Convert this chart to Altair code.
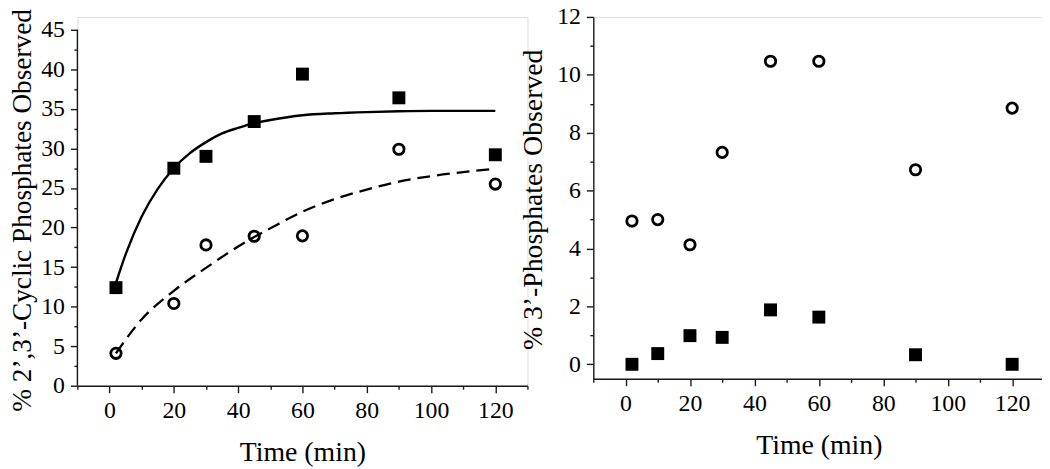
import altair as alt
import pandas as pd

# ---------------- data ----------------
# Left panel: % 2',3'-cyclic phosphates
cyc_time = [2, 20, 30, 45, 60, 90, 120]
cyc_filled = [12.4, 27.5, 29.0, 33.4, 39.4, 36.4, 29.2]
cyc_open = [4.1, 10.4, 17.8, 18.9, 18.95, 29.9, 25.5]

# fitted curves
fit_solid_time = [2, 5, 10, 15, 20, 25, 30, 35, 40, 45, 50, 60, 70, 80, 90, 100, 110, 120]
fit_solid = [13.0, 16.6, 21.4, 24.9, 27.5, 29.4, 30.8, 31.9, 32.6, 33.2, 33.6, 34.2,
             34.45, 34.6, 34.7, 34.75, 34.75, 34.75]
fit_dash_time = [2, 10, 20, 30, 40, 45, 50, 60, 70, 80, 90, 100, 110, 120]
fit_dash = [4.1, 8.4, 12.0, 14.9, 17.6, 18.8, 19.9, 22.0, 23.6, 24.8, 25.8, 26.5, 27.0, 27.45]

# Right panel: % 3'-phosphates
p3_time = [2, 10, 20, 30, 45, 60, 90, 120]
p3_open = [4.95, 5.0, 4.13, 7.32, 10.47, 10.47, 6.72, 8.85]
p3_filled = [0.0, 0.37, 0.99, 0.93, 1.88, 1.63, 0.33, 0.0]

# axis ticks
x_ticks = list(range(-10, 131, 10))
left_y_ticks = [i * 2.5 for i in range(0, 19)]
right_y_ticks = list(range(0, 13))
left_axis_span = [0, 45]

FONT = "Liberation Serif"
AX = "#1a1a1a"
W = 454


def x_axis():
    return alt.Axis(
        values=x_ticks,
        labelExpr="datum.value % 20 === 0 ? format(datum.value, 'd') : ''",
        tickSize={"condition": {"test": "datum.value % 20 === 0", "value": 7}, "value": 3.5},
        title="Time (min)", titleFont=FONT, titleFontSize=28, titleFontWeight="normal",
        titleColor="black", titlePadding=16,
        labelFont=FONT, labelFontSize=24, labelColor="black", labelPadding=6.5,
        labelFlush=False, labelOverlap=False, grid=False,
        domainColor=AX, domainWidth=1.4, tickColor=AX, tickWidth=1.4,
    )


def y_axis(values, major, title, tpad, title_size, title_y=None, domain=True):
    kw = {}
    if title_y is not None:
        kw["titleY"] = title_y
    return alt.Axis(
        values=values,
        labelExpr=f"datum.value % {major} === 0 ? format(datum.value, 'd') : ''",
        tickSize={"condition": {"test": f"datum.value % {major} === 0", "value": 7}, "value": 3.5},
        title=title, titleFont=FONT, titleFontSize=title_size, titleFontWeight="normal",
        titleColor="black", titlePadding=tpad,
        labelFont=FONT, labelFontSize=24, labelColor="black", labelPadding=6,
        labelOverlap=False, grid=False, domain=domain,
        domainColor=AX, domainWidth=1.4, tickColor=AX, tickWidth=1.4, **kw,
    )


# ---------------- left panel ----------------
lx_scale = alt.Scale(domain=[-10, 130], nice=False, zero=False)
ly_scale = alt.Scale(domain=[0, 46.63], nice=False, zero=False)
lx_axis = x_axis()
ly_axis = y_axis(left_y_ticks, 5, "% 2\u2019,3\u2019-Cyclic Phosphates Observed", 4.1, 27.5,
                 title_y=194.7, domain=False)

df_cyc = pd.DataFrame({"t": cyc_time, "filled": cyc_filled, "open": cyc_open})
df_solid = pd.DataFrame({"t": fit_solid_time, "v": fit_solid})
df_dash = pd.DataFrame({"t": fit_dash_time, "v": fit_dash})
df_span = pd.DataFrame({"y0": [left_axis_span[0]], "y1": [left_axis_span[1]]})

lx = lambda f: alt.X(f, type="quantitative", scale=lx_scale, axis=lx_axis)
ly = lambda f: alt.Y(f, type="quantitative", scale=ly_scale, axis=ly_axis)

solid = alt.Chart(df_solid).mark_line(color="black", strokeWidth=2.4, interpolate="monotone").encode(
    x=lx("t"), y=ly("v"))
dash = alt.Chart(df_dash).mark_line(color="black", strokeWidth=2.3, strokeDash=[13, 7],
                                    interpolate="monotone").encode(x=lx("t"), y=ly("v"))
l_sq = alt.Chart(df_cyc).mark_square(size=170, color="black", opacity=1).encode(x=lx("t"), y=ly("filled"))
l_ci = alt.Chart(df_cyc).mark_point(shape="circle", size=110, filled=False, strokeWidth=2.8,
                                    color="black", opacity=1).encode(x=lx("t"), y=ly("open"))
l_axis_line = alt.Chart(df_span).mark_rule(color=AX, strokeWidth=1.4).encode(
    x=alt.value(0), y=ly("y0"), y2="y1:Q")

left = alt.layer(l_axis_line, dash, solid, l_sq, l_ci).properties(width=W, height=372)

# ---------------- right panel ----------------
rx_scale = alt.Scale(domain=[-10, 130], nice=False, zero=False)
ry_scale = alt.Scale(domain=[-0.5, 12], nice=False, zero=False)
rx_axis = x_axis()
ry_axis = y_axis(right_y_ticks, 2, "% 3\u2019-Phosphates Observed", 8.8, 28, title_y=184)

df_p3 = pd.DataFrame({"t": p3_time, "open": p3_open, "filled": p3_filled})
rx = lambda f: alt.X(f, type="quantitative", scale=rx_scale, axis=rx_axis)
ry = lambda f: alt.Y(f, type="quantitative", scale=ry_scale, axis=ry_axis)

r_sq = alt.Chart(df_p3).mark_square(size=170, color="black", opacity=1).encode(x=rx("t"), y=ry("filled"))
r_ci = alt.Chart(df_p3).mark_point(shape="circle", size=110, filled=False, strokeWidth=2.8,
                                   color="black", opacity=1).encode(x=rx("t"), y=ry("open"))
right = alt.layer(r_sq, r_ci).properties(width=455, height=365)

chart = alt.hconcat(left, right, spacing=66.4, bounds="flush",
                    padding={"left": 0, "top": -6, "right": -4, "bottom": 0}).configure_view(
    stroke=None).configure(background="white")

chart.save("out.html", embed_options={"renderer": "svg", "actions": False})
